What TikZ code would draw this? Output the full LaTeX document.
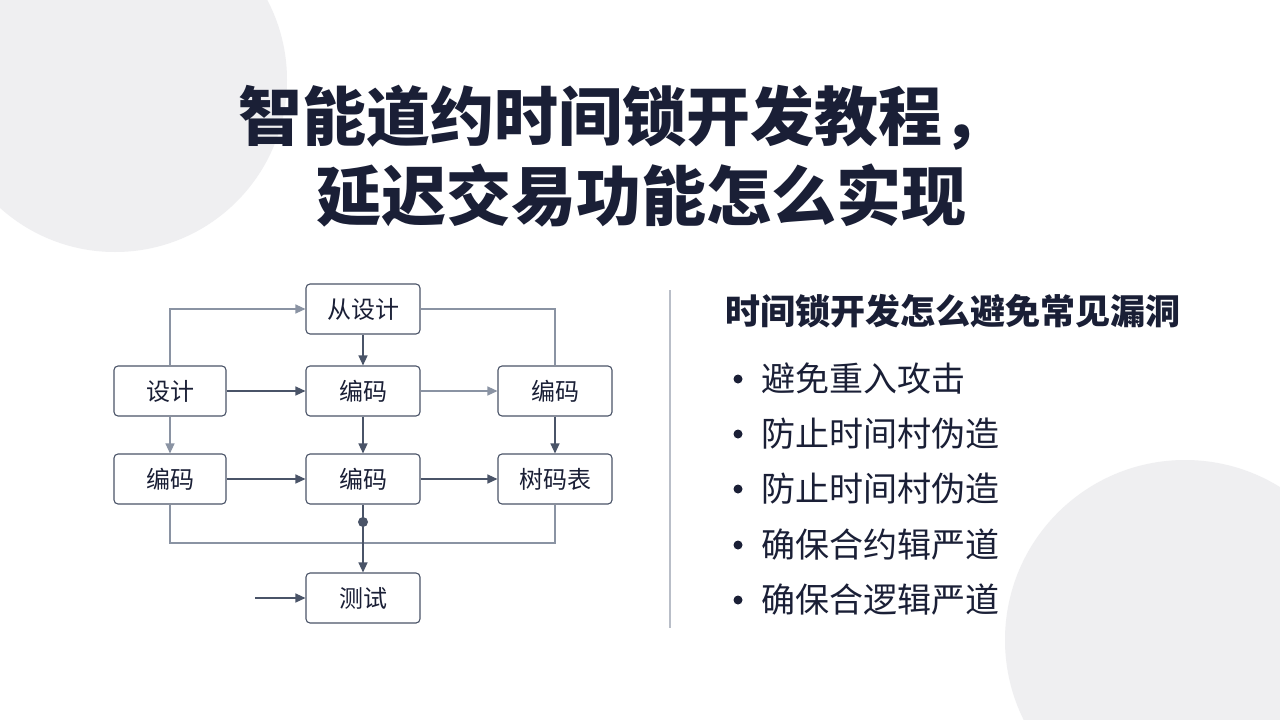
\documentclass[tikz,border=0pt]{standalone}
\usepackage{fontspec}
\setmainfont{Noto Sans CJK SC}
\usetikzlibrary{arrows.meta}
\definecolor{ink}{HTML}{1A1F36}
\definecolor{edge}{HTML}{4A5468}
\definecolor{light}{HTML}{8A93A3}
\definecolor{bgc}{HTML}{EFEFF1}
\begin{document}
\begin{tikzpicture}[x=1pt,y=-1pt,
  box/.style={draw=edge,line width=1.1pt,rounded corners=4pt,fill=white,minimum width=114pt,minimum height=50pt,font=\fontsize{24}{26}\selectfont,text=ink},
  ar/.style={draw=edge,line width=1.3pt,-{Triangle[length=10pt,width=9pt]}},
  lar/.style={draw=light,line width=1.3pt,-{Triangle[length=10pt,width=9pt]}},
  ln/.style={draw=light,line width=1.3pt},
  bul/.style={anchor=west,font=\fontsize{34}{36}\selectfont,text=ink}]
\useasboundingbox (0,0) rectangle (1280,720);
\fill[white] (0,0) rectangle (1280,720);
\begin{scope}
\clip (0,0) rectangle (1280,720);
\fill[bgc] (115,80) circle (172);
\fill[bgc] (1185,640) circle (180);
\end{scope}
\node[font=\fontsize{64}{66}\selectfont\bfseries,text=ink] (t1) at (622,118) {智能道约时间锁开发教程，};
\node[font=\fontsize{65}{67}\selectfont\bfseries,text=ink] (t2) at (641,196) {延迟交易功能怎么实现};
% diagram
\node[box] (top) at (363,309) {从设计};
\node[box,minimum width=112pt] (d) at (170,391) {设计};
\node[box] (m1) at (363,391) {编码};
\node[box] (r1) at (555,391) {编码};
\node[box,minimum width=112pt] (l2) at (170,479) {编码};
\node[box] (m2) at (363,479) {编码};
\node[box] (r2) at (555,479) {树码表};
\node[box] (test) at (363,598) {测试};
\coordinate (free) at (255,598);
\draw[lar] (d.north) |- (top.west);
\draw[ln] (top.east) -| (r1.north);
\draw[ar] (top) -- (m1);
\draw[ar] (d) -- (m1);
\draw[lar] (m1) -- (r1);
\draw[lar] (d) -- (l2);
\draw[ar] (m1) -- (m2);
\draw[ar] (r1) -- (r2);
\draw[ar] (l2) -- (m2);
\draw[ar] (m2) -- (r2);
\draw[ln] (l2.south) |- (363,543) -| (r2.south);
\draw[ar] (m2.south) -- (test.north);
\fill[edge] (363,522) circle (5);
\draw[ar] (free) -- (test.west);
% divider
\draw[draw=light!60,line width=1.2pt] (670,290) -- (670,628);
% right
\node[anchor=west,font=\fontsize{35}{38}\selectfont\bfseries,text=ink] (h) at (722,311) {时间锁开发怎么避免常见漏洞};
\foreach \y/\t [count=\i] in {379/避免重入攻击,434/防止时间村伪造,489/防止时间村伪造,545/确保合约辑严道,600/确保合逻辑严道}{
  \fill[ink] (738,\y) circle (4.5);
  \node[bul] (b\i) at (758,\y) {\t};
}
\end{tikzpicture}
\end{document}
